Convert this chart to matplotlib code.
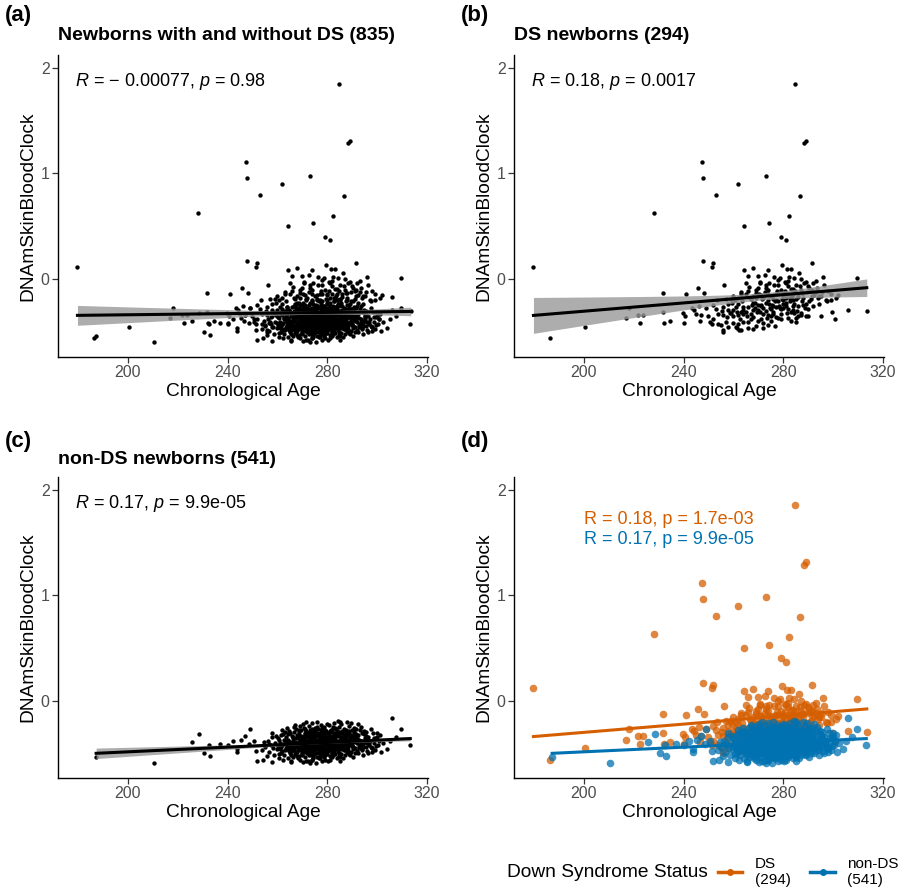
import numpy as np
import matplotlib.pyplot as plt
from matplotlib.lines import Line2D

plt.rcParams['font.family'] = ['Liberation Sans', 'DejaVu Sans']
plt.rcParams['mathtext.fontset'] = 'custom'
plt.rcParams['mathtext.it'] = 'Liberation Sans:italic'
plt.rcParams['mathtext.rm'] = 'Liberation Sans'

# ---- data (chronological age in days, clock value) ----
DS_AGE = [
    179.8, 186.4, 200.4, 217.0, 218.3, 221.6, 222.5, 223.6, 228.3, 231.9,
    231.9, 232.1, 234.7, 239.6, 240.6, 240.0, 241.0, 243.5, 245.8, 247.3,
    247.9, 248.0, 248.3, 246.5, 245.0, 251.3, 251.8, 253.0, 250.5, 251.5,
    255.7, 256.3, 261.4, 262.1, 261.8, 264.2, 268.0, 273.2, 274.1, 274.0,
    279.0, 281.1, 279.3, 281.6, 283.2, 282.4, 284.8, 286.8, 288.5, 289.0,
    291.6, 293.3, 296.0, 295.0, 299.5, 300.8, 302.0, 306.0, 309.7, 313.5,
    297.7, 299.0, 294.4, 291.7, 290.4, 287.7, 285.0, 284.3, 287.0, 290.0,
    264.4, 265.7, 269.7, 270.5, 274.4, 277.7, 282.4, 282.0,
    258, 260, 262, 263, 264, 265, 266, 267, 268, 269,
    270, 271, 272, 273, 274, 275, 276, 277, 278, 279,
    280, 281, 282, 283, 284, 285, 286, 287, 288, 289,
    257, 259, 261, 263, 265, 267, 269, 271, 273, 275,
    277, 279, 281, 283, 285, 287, 289, 291, 293, 295,
    254, 256, 258, 260, 262, 264, 266, 268, 270, 272,
    274, 276, 278, 280, 282, 284, 286, 288, 290, 292,
    252, 255, 257, 259, 261, 263, 265, 267, 269, 271,
    273, 275, 277, 279, 281, 283, 285, 287, 289, 291,
    253, 256, 260, 262, 264, 266, 268, 270, 272, 274,
    276, 278, 280, 282, 284, 286, 288, 290, 292, 294,
    266.5, 268.5, 270.5, 272.5, 274.5, 276.5, 278.5, 280.5, 282.5, 284.5,
    265.5, 267.5, 269.5, 271.5, 273.5, 275.5, 277.5, 279.5, 281.5, 283.5,
    259.5, 261.5, 263.5, 270.8, 272.8, 276.2, 278.8, 284.2, 286.4, 288.2,
    297, 298, 299, 301, 296.5, 294.5, 292.5, 290.5, 287.5, 285.5,
    249, 250, 252, 254, 256, 258, 260, 262, 264, 266,
    268, 270, 272, 274, 276, 278, 280, 282, 284, 286,
    271.2, 273.8, 275.8, 277.2, 279.8, 281.2, 283.8, 274.2, 270.2, 268.8,
    244, 246, 247, 253.5, 255.5, 257.5, 262.5, 267.8, 271.8, 276.8,
    279.2, 283.2, 280.8, 276.2, 273.2, 269.2, 266.2, 263.2, 260.8, 258.8,
    289.5, 291.5, 293.5, 295.5, 288.8, 286.8, 284.8, 282.8, 278.2, 275.2,
]
DS_CLOCK = [
    0.12, -0.56, -0.45, -0.37, -0.27, -0.34, -0.41, -0.34, 0.63, -0.13,
    -0.31, -0.41, -0.39, -0.32, -0.35, -0.41, -0.14, -0.27, -0.085, 1.11,
    0.96, 0.17, -0.13, -0.39, -0.33, 0.12, 0.15, 0.80, -0.40, -0.42,
    -0.48, -0.05, -0.46, -0.48, 0.90, 0.50, 0.11, 0.98, 0.53, 0.09,
    0.40, 0.37, 0.135, 0.10, 0.10, 0.60, 1.85, 0.79, 1.29, 1.31,
    0.15, -0.02, 0.02, -0.35, -0.31, -0.38, -0.15, -0.29, 0.01, -0.30,
    -0.21, -0.20, -0.16, -0.10, -0.085, -0.13, -0.40, -0.32, -0.34, -0.35,
    0.09, 0.03, 0.03, -0.03, -0.04, -0.005, 0.025, -0.02,
    -0.29, -0.35, -0.23, -0.31, -0.40, -0.14, -0.26, -0.33, -0.22, -0.10,
    -0.29, -0.15, -0.33, -0.22, -0.10, -0.28, -0.19, -0.36, -0.21, -0.10,
    -0.27, -0.18, -0.14, -0.31, -0.20, -0.05, -0.17, -0.32, -0.13, -0.23,
    -0.40, -0.19, -0.45, -0.14, -0.31, -0.19, -0.44, -0.25, -0.05, -0.39,
    -0.14, -0.28, -0.04, -0.19, -0.37, -0.10, -0.03, -0.19, -0.12, -0.16,
    -0.33, -0.26, -0.45, -0.16, -0.34, -0.26, -0.46, -0.29, -0.08, -0.18,
    -0.34, -0.25, -0.05, -0.15, -0.37, -0.09, -0.25, -0.18, -0.28, -0.04,
    -0.38, -0.43, -0.19, -0.32, -0.26, -0.48, -0.04, -0.38, -0.18, -0.38,
    -0.30, -0.16, -0.26, -0.38, -0.25, -0.09, -0.19, 0.00, -0.35, -0.11,
    -0.28, -0.50, -0.29, -0.42, -0.33, -0.11, -0.36, -0.24, -0.41, -0.20,
    -0.33, -0.14, -0.23, -0.06, -0.29, -0.14, -0.24, -0.06, -0.25, -0.18,
    -0.18, -0.27, -0.31, -0.12, -0.27, -0.21, -0.27, -0.11, -0.21, -0.23,
    -0.35, -0.24, -0.31, -0.19, -0.37, -0.24, -0.11, -0.19, -0.32, -0.16,
    -0.22, -0.31, -0.21, -0.04, 0.04, -0.05, 0.01, 0.01, 0.06, -0.04,
    -0.20, -0.11, -0.14, -0.18, -0.05, -0.23, -0.15, -0.21, -0.21, -0.30,
    -0.27, -0.35, -0.24, -0.42, -0.34, -0.23, -0.41, -0.18, -0.29, -0.40,
    -0.16, -0.39, -0.27, -0.43, -0.15, -0.37, -0.20, -0.28, -0.14, -0.35,
    -0.24, -0.14, -0.31, -0.20, -0.14, -0.22, -0.25, -0.23, -0.14, -0.22,
    -0.29, -0.25, -0.34, -0.20, -0.30, -0.36, -0.38, -0.47, -0.46, -0.44,
    -0.33, -0.39, -0.03, 0.02, -0.08, -0.13, -0.07, -0.12, -0.20, -0.32,
    -0.12, -0.16, -0.08, -0.12, -0.27, -0.06, -0.11, -0.18, -0.25, -0.35,
]

NONDS_AGE = [
    187.3, 210.4, 225.6, 228.6, 230.4, 232.8, 232.4, 237.0, 243.7, 243.9,
    249.1, 247.0, 251.9, 254.4, 257.8, 251.5, 306.0, 309.7, 313.3, 307.5,
    300.0, 304.0, 301.5, 275.6, 273.9, 285.2, 276.0, 284.5, 288.0, 271.6,
    245.5, 248.5, 250.5, 240.0, 242.0, 302.5, 305.0, 298.0, 296.5, 299.5,
    255.2, 256.1, 256.8, 257.4, 258.0, 258.6, 259.1, 259.7, 255.8, 257.9,
    258.3, 259.4, 256.5, 254.6, 253.8,
    260.2, 260.8, 261.3, 261.9, 262.4, 262.9, 263.3, 260.5, 261.6, 262.1,
    262.7, 263.6, 260.9, 261.1, 263.0, 262.2, 260.3, 261.8, 263.8, 262.6,
    261.4, 260.7, 263.4, 262.0, 263.9,
    264.1, 264.6, 265.0, 265.5, 266.0, 266.4, 266.9, 267.3, 264.3, 265.2,
    265.8, 266.7, 267.6, 264.8, 265.4, 266.2, 267.0, 267.8, 264.5, 266.6,
    265.7, 264.9, 267.4, 266.1, 265.1, 264.2, 267.1, 266.8, 265.9, 264.7,
    267.9, 266.3, 265.3, 264.4, 267.2, 266.5, 265.6, 264.0, 266.9, 267.7,
    268.1, 268.5, 268.9, 269.3, 269.7, 270.1, 270.5, 270.9, 271.3, 271.7,
    268.3, 268.7, 269.1, 269.5, 269.9, 270.3, 270.7, 271.1, 271.5, 271.9,
    268.2, 268.8, 269.4, 270.0, 270.6, 271.2, 271.8, 268.6, 269.2, 269.8,
    270.4, 271.0, 271.6, 268.4, 269.0, 269.6, 270.2, 270.8, 271.4, 268.0,
    269.3, 270.9, 271.1, 268.9, 270.3, 271.7, 269.7, 268.5, 270.1, 271.3,
    270.6, 269.1, 268.7, 271.9, 270.0,
    272.1, 272.5, 272.9, 273.3, 273.7, 274.1, 274.5, 274.9, 275.3, 275.7,
    272.3, 272.7, 273.1, 273.5, 273.9, 274.3, 274.7, 275.1, 275.5, 275.9,
    272.2, 272.8, 273.4, 274.0, 274.6, 275.2, 275.8, 272.4, 273.0, 273.6,
    274.2, 274.8, 275.4, 272.6, 273.2, 273.8, 274.4, 275.0, 275.6, 272.0,
    273.5, 274.9, 272.3, 275.9, 273.1, 274.5, 272.7, 275.3, 274.1, 273.7,
    272.9, 274.3, 275.7, 273.3, 272.5, 274.7, 275.1, 273.9, 272.1, 274.0,
    275.5, 273.4, 272.6, 274.6, 273.0,
    276.1, 276.5, 276.9, 277.3, 277.7, 278.1, 278.5, 278.9, 279.3, 279.7,
    276.3, 276.7, 277.1, 277.5, 277.9, 278.3, 278.7, 279.1, 279.5, 279.9,
    276.2, 276.8, 277.4, 278.0, 278.6, 279.2, 279.8, 276.4, 277.0, 277.6,
    278.2, 278.8, 279.4, 276.6, 277.2, 277.8, 278.4, 279.0, 279.6, 276.0,
    277.5, 278.9, 276.3, 279.9, 277.1, 278.5, 276.7, 279.3, 278.1, 277.7,
    276.9, 278.3, 279.7, 277.3, 276.5, 278.7, 279.1, 277.9, 276.1, 278.0,
    279.5, 277.4, 276.6, 278.6, 277.0, 279.8, 276.8, 278.4, 277.8, 279.2,
    280.1, 280.5, 280.9, 281.3, 281.7, 282.1, 282.5, 282.9, 283.3, 283.7,
    280.3, 280.7, 281.1, 281.5, 281.9, 282.3, 282.7, 283.1, 283.5, 283.9,
    280.2, 280.8, 281.4, 282.0, 282.6, 283.2, 283.8, 280.4, 281.0, 281.6,
    282.2, 282.8, 283.4, 280.6, 281.2, 281.8, 282.4, 283.0, 283.6, 280.0,
    281.5, 282.9, 280.3, 283.9, 281.1, 282.5, 280.7, 283.3, 282.1, 281.7,
    280.9, 282.3, 283.7, 281.3, 280.5, 282.7, 283.1, 281.9, 280.1, 282.0,
    283.5, 281.4, 280.6, 282.6, 281.0,
    284.1, 284.5, 284.9, 285.3, 285.7, 286.1, 286.5, 286.9, 287.3, 287.7,
    284.3, 284.7, 285.1, 285.5, 285.9, 286.3, 286.7, 287.1, 287.5, 287.9,
    284.2, 284.8, 285.4, 286.0, 286.6, 287.2, 287.8, 284.4, 285.0, 285.6,
    286.2, 286.8, 287.4, 284.6, 285.2, 285.8, 286.4, 287.0, 287.6, 284.0,
    285.5, 286.9, 284.3, 287.9, 285.1, 286.5, 284.7, 287.3, 286.1, 285.7,
    288.1, 288.5, 288.9, 289.3, 289.7, 290.1, 290.5, 290.9, 291.3, 291.7,
    288.3, 288.7, 289.1, 289.5, 289.9, 290.3, 290.7, 291.1, 291.5, 291.9,
    288.2, 288.8, 289.4, 290.0, 290.6, 291.2, 291.8, 288.4, 289.0, 289.6,
    290.2, 290.8, 291.4, 288.6, 289.2, 289.8, 290.4, 291.0, 291.6, 288.0,
    292.1, 292.6, 293.1, 293.6, 294.1, 294.6, 295.1, 295.6, 292.4, 293.4,
    294.4, 295.4, 292.8, 293.8, 294.8, 295.8, 292.2, 293.2, 294.2, 295.2,
    292.9, 293.9, 294.9, 295.9, 296.3, 296.7, 292.5, 293.5, 294.5, 295.5,
    297.1, 297.6, 298.2, 298.7, 299.3, 299.8, 300.4, 297.4, 298.0, 298.9,
    299.6, 300.7, 301.2, 297.9, 296.9,
]
NONDS_CLOCK = [
    -0.535, -0.595, -0.39, -0.32, -0.50, -0.53, -0.42, -0.41, -0.49, -0.46,
    -0.27, -0.34, -0.57, -0.56, -0.58, -0.48, -0.17, -0.27, -0.42, -0.35,
    -0.31, -0.46, -0.49, -0.595, -0.56, -0.57, -0.20, -0.195, -0.20, -0.20,
    -0.37, -0.41, -0.38, -0.42, -0.38, -0.40, -0.38, -0.45, -0.50, -0.36,
    -0.44, -0.38, -0.49, -0.42, -0.35, -0.52, -0.40, -0.46, -0.53, -0.31,
    -0.45, -0.34, -0.41, -0.39, -0.47,
    -0.43, -0.37, -0.50, -0.28, -0.41, -0.47, -0.35, -0.55, -0.44, -0.32,
    -0.52, -0.39, -0.46, -0.40, -0.30, -0.56, -0.36, -0.48, -0.43, -0.37,
    -0.33, -0.51, -0.45, -0.42, -0.26,
    -0.38, -0.45, -0.31, -0.52, -0.41, -0.36, -0.49, -0.27, -0.55, -0.43,
    -0.34, -0.47, -0.40, -0.29, -0.57, -0.38, -0.44, -0.33, -0.48, -0.25,
    -0.42, -0.50, -0.36, -0.54, -0.39, -0.32, -0.51, -0.30, -0.46, -0.41,
    -0.43, -0.35, -0.48, -0.37, -0.23, -0.44, -0.58, -0.46, -0.39, -0.53,
    -0.40, -0.33, -0.47, -0.28, -0.52, -0.37, -0.44, -0.31, -0.49, -0.42,
    -0.55, -0.39, -0.24, -0.45, -0.35, -0.58, -0.41, -0.36, -0.29, -0.50,
    -0.46, -0.30, -0.43, -0.51, -0.26, -0.39, -0.34, -0.53, -0.37, -0.42,
    -0.48, -0.32, -0.45, -0.36, -0.56, -0.40, -0.22, -0.44, -0.38, -0.49,
    -0.34, -0.54, -0.27, -0.43, -0.47, -0.31, -0.50, -0.41, -0.35, -0.57,
    -0.39, -0.46, -0.28, -0.40, -0.43,
    -0.38, -0.45, -0.30, -0.52, -0.41, -0.35, -0.48, -0.26, -0.43, -0.37,
    -0.50, -0.33, -0.44, -0.39, -0.56, -0.29, -0.42, -0.47, -0.32, -0.54,
    -0.41, -0.24, -0.37, -0.46, -0.36, -0.40, -0.44, -0.57, -0.28, -0.49,
    -0.31, -0.51, -0.38, -0.43, -0.35, -0.27, -0.53, -0.42, -0.34, -0.46,
    -0.40, -0.33, -0.48, -0.25, -0.45, -0.39, -0.36, -0.50, -0.44, -0.30,
    -0.42, -0.55, -0.41, -0.34, -0.52, -0.47, -0.29, -0.38, -0.33, -0.21,
    -0.46, -0.43, -0.39, -0.32, -0.59,
    -0.39, -0.46, -0.31, -0.43, -0.52, -0.36, -0.41, -0.28, -0.48, -0.35,
    -0.44, -0.33, -0.55, -0.40, -0.30, -0.47, -0.25, -0.42, -0.37, -0.51,
    -0.34, -0.49, -0.38, -0.43, -0.32, -0.56, -0.40, -0.27, -0.45, -0.36,
    -0.50, -0.37, -0.29, -0.42, -0.53, -0.33, -0.44, -0.39, -0.46, -0.31,
    -0.23, -0.48, -0.41, -0.35, -0.38, -0.54, -0.46, -0.30, -0.40, -0.57,
    -0.36, -0.42, -0.43, -0.28, -0.50, -0.34, -0.52, -0.45, -0.38, -0.26,
    -0.41, -0.47, -0.32, -0.39, -0.44, -0.22, -0.55, -0.31, -0.49, -0.37,
    -0.37, -0.44, -0.29, -0.41, -0.50, -0.34, -0.46, -0.26, -0.43, -0.38,
    -0.48, -0.32, -0.53, -0.39, -0.28, -0.45, -0.36, -0.51, -0.33, -0.42,
    -0.40, -0.23, -0.35, -0.47, -0.31, -0.39, -0.55, -0.44, -0.37, -0.30,
    -0.42, -0.49, -0.27, -0.34, -0.46, -0.40, -0.52, -0.35, -0.45, -0.31,
    -0.38, -0.43, -0.57, -0.29, -0.41, -0.33, -0.47, -0.40, -0.25, -0.54,
    -0.36, -0.48, -0.32, -0.44, -0.39, -0.21, -0.37, -0.50, -0.43, -0.35,
    -0.46, -0.28, -0.42, -0.38, -0.56,
    -0.38, -0.45, -0.30, -0.42, -0.51, -0.35, -0.40, -0.27, -0.47, -0.36,
    -0.43, -0.33, -0.54, -0.39, -0.29, -0.46, -0.37, -0.52, -0.31, -0.41,
    -0.48, -0.25, -0.36, -0.44, -0.32, -0.40, -0.49, -0.34, -0.42, -0.22,
    -0.45, -0.38, -0.28, -0.50, -0.37, -0.43, -0.55, -0.33, -0.39, -0.41,
    -0.31, -0.47, -0.39, -0.44, -0.20, -0.35, -0.53, -0.42, -0.30, -0.46,
    -0.37, -0.44, -0.29, -0.41, -0.49, -0.33, -0.39, -0.26, -0.45, -0.35,
    -0.42, -0.31, -0.52, -0.38, -0.28, -0.46, -0.36, -0.50, -0.32, -0.40,
    -0.47, -0.24, -0.35, -0.43, -0.30, -0.38, -0.48, -0.33, -0.40, -0.21,
    -0.44, -0.37, -0.27, -0.51, -0.36, -0.42, -0.54, -0.34, -0.39, -0.43,
    -0.36, -0.43, -0.28, -0.40, -0.47, -0.32, -0.38, -0.44, -0.50, -0.25,
    -0.41, -0.34, -0.37, -0.46, -0.29, -0.40, -0.33, -0.42, -0.52, -0.36,
    -0.45, -0.31, -0.39, -0.48, -0.35, -0.42, -0.22, -0.38, -0.44, -0.30,
    -0.38, -0.44, -0.31, -0.40, -0.47, -0.35, -0.42, -0.27, -0.49, -0.36,
    -0.43, -0.38, -0.33, -0.45, -0.40,
]

TITLES = ['Newborns with and without DS (835)', 'DS newborns (294)',
          'non-DS newborns (541)', '']
STAT_LABELS = [r'$\mathit{R}$ = $-$ 0.00077, $\mathit{p}$ = 0.98',
               r'$\mathit{R}$ = 0.18, $\mathit{p}$ = 0.0017',
               r'$\mathit{R}$ = 0.17, $\mathit{p}$ = 9.9e-05']
GROUP_STATS = ['R = 0.18, p = 1.7e-03', 'R = 0.17, p = 9.9e-05']
LEGEND_LABELS = ['DS\n(294)', 'non-DS\n(541)']

ORANGE = '#D55E00'
BLUE = '#0072B2'


def lm_fit(x, y, n=100):
    x = np.asarray(x, float)
    y = np.asarray(y, float)
    b, a = np.polyfit(x, y, 1)
    xs = np.linspace(x.min(), x.max(), n)
    yhat = a + b * xs
    resid = y - (a + b * x)
    s = np.sqrt(np.sum(resid ** 2) / (len(x) - 2))
    se = s * np.sqrt(1 / len(x) + (xs - x.mean()) ** 2 / np.sum((x - x.mean()) ** 2))
    return xs, yhat, 1.96 * se


def style(ax):
    for sp in ['top', 'right']:
        ax.spines[sp].set_visible(False)
    for sp in ['left', 'bottom']:
        ax.spines[sp].set_linewidth(1.0)
    ax.set_xlim(172, 320.4)
    ax.set_ylim(-0.735, 2.12)
    ax.set_xticks([200, 240, 280, 320])
    ax.set_yticks([0, 1, 2])
    ax.tick_params(length=4, width=0.9, color='#333333', labelsize=11.5,
                   labelcolor='#4d4d4d', pad=2)
    ax.set_xlabel('Chronological Age', fontsize=13.8, labelpad=2)
    ax.set_ylabel('DNAmSkinBloodClock', fontsize=13.8, labelpad=3)


W, H = 912, 888
fig = plt.figure(figsize=(W / 100, H / 100), dpi=100)

boxes = [(58, 55, 428, 357), (514, 55, 884, 357),
         (58, 477, 428, 778), (514, 477, 884, 778)]
axes = []
for (l, t, r, b) in boxes:
    axes.append(fig.add_axes([l / W, 1 - b / H, (r - l) / W, (b - t) / H]))

all_age = DS_AGE + NONDS_AGE
all_clock = DS_CLOCK + NONDS_CLOCK
groups = [(all_age, all_clock), (DS_AGE, DS_CLOCK), (NONDS_AGE, NONDS_CLOCK)]

for i, (xa, ya) in enumerate(groups):
    ax = axes[i]
    ax.scatter(xa, ya, s=10, color='black', linewidths=0, zorder=2)
    xs, yh, ci = lm_fit(xa, ya)
    ax.fill_between(xs, yh - ci, yh + ci, color='#999999', alpha=0.8,
                    linewidth=0, zorder=3)
    ax.plot(xs, yh, color='black', lw=2.2, zorder=4)
    ax.text(178.9, 1.87, STAT_LABELS[i], fontsize=13, va='center', ha='left')
    style(ax)

ax = axes[3]
ax.scatter(DS_AGE, DS_CLOCK, s=30, color=ORANGE, alpha=0.75, linewidths=0, zorder=2)
ax.scatter(NONDS_AGE, NONDS_CLOCK, s=30, color=BLUE, alpha=0.75, linewidths=0, zorder=3)
for xa, ya, c in [(DS_AGE, DS_CLOCK, ORANGE), (NONDS_AGE, NONDS_CLOCK, BLUE)]:
    xs, yh, _ = lm_fit(xa, ya)
    ax.plot(xs, yh, color=c, lw=2.2, zorder=4)
ax.text(200, 1.72, GROUP_STATS[0], color=ORANGE, fontsize=13, va='center')
ax.text(200, 1.53, GROUP_STATS[1], color=BLUE, fontsize=13, va='center')
style(ax)

# panel letters and titles
for lab, (x, y) in zip(['(a)', '(b)', '(c)', '(d)'],
                       [(5, 16), (461, 16), (5, 441), (461, 441)]):
    fig.text(x / W, 1 - y / H, lab, fontsize=16, fontweight='bold', va='center')
for title, (x, y) in zip(TITLES, [(58, 35), (514, 35), (58, 459), (514, 459)]):
    if title:
        fig.text(x / W, 1 - y / H, title, fontsize=14, fontweight='bold', va='center')

# legend
fig.text(507 / W, 1 - 872 / H, 'Down Syndrome Status', fontsize=13.8, va='center')
handles = [Line2D([0], [0], color=ORANGE, lw=2.5, marker='o', ms=4),
           Line2D([0], [0], color=BLUE, lw=2.5, marker='o', ms=4)]
fig.legend(handles, LEGEND_LABELS, loc='center left',
           bbox_to_anchor=(718 / W, 1 - 872 / H), ncol=2, frameon=False,
           fontsize=11, handlelength=1.6, handletextpad=0.8, columnspacing=1.3,
           borderpad=0, borderaxespad=0, labelspacing=0)

fig.savefig('out.png', dpi=100)
